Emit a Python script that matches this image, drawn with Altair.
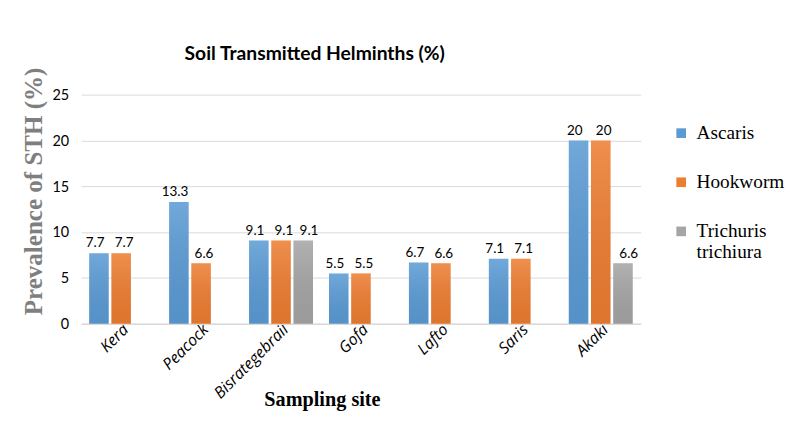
import altair as alt
import pandas as pd

sites = ["Kera", "Peacock", "Bisrategebrail", "Gofa", "Lafto", "Saris", "Akaki"]
series = ["Ascaris", "Hookworm", "Trichuris trichiura"]
ascaris = [7.7, 13.3, 9.1, 5.5, 6.7, 7.1, 20]
hookworm = [7.7, 6.6, 9.1, 5.5, 6.6, 7.1, 20]
trichuris = [None, None, 9.1, None, None, None, 6.6]
colors = ["#5b9bd5", "#ed7d31", "#a5a5a5"]

rows = []
for i, s in enumerate(sites):
    for name, vals in zip(series, [ascaris, hookworm, trichuris]):
        if vals[i] is not None:
            rows.append({"site": s, "series": name, "value": vals[i]})
df = pd.DataFrame(rows)

x = alt.X("site:N", sort=sites, title="Sampling site",
          scale=alt.Scale(paddingInner=0.2, paddingOuter=0.1),
          axis=alt.Axis(labelAngle=-45, labelAlign="right", labelBaseline="middle",
                        labelFont="Open Sans", labelFontStyle="italic", labelFontSize=16.5,
                        labelColor="#000000", labelPadding=3, labelOffset=5, ticks=False,
                        domainColor="#d9d9d9", domainWidth=1.5,
                        titleFont="Liberation Serif", titleFontWeight="bold", titleFontSize=21,
                        titleColor="#000000", titleX=250, titleY=68))
xo = alt.XOffset("series:N", sort=series, scale=alt.Scale(domain=series, paddingInner=0.12))
y = alt.Y("value:Q", title="Prevalence of STH (%)",
          scale=alt.Scale(domain=[0, 25]),
          axis=alt.Axis(values=[0, 5, 10, 15, 20, 25], ticks=False, domain=False,
                        gridColor="#d9d9d9", labelFont="Lato", labelFontSize=15,
                        labelColor="#000000", labelPadding=13,
                        titleFont="Liberation Serif", titleFontWeight="bold", titleFontSize=26,
                        titleColor="#7f7f7f", titlePadding=6, titleY=100))

base = alt.Chart(df)

bars = base.mark_bar().encode(
    x=x, xOffset=xo, y=y,
    color=alt.Color("series:N", sort=series,
                    scale=alt.Scale(domain=series, range=colors),
                    legend=alt.Legend(title=None, orient="none", legendX=613, legendY=30,
                                      symbolType="square", symbolSize=100,
                                      symbolStrokeWidth=0,
                                      labelFont="Liberation Serif", labelFontSize=20,
                                      labelColor="#000000", rowPadding=31, padding=0,
                                      labelOffset=6, labelLimit=200,
                                      labelExpr="datum.label == 'Trichuris trichiura' ? ['Trichuris', 'trichiura'] : datum.label")),
)

shade = base.mark_bar(
    fill=alt.Gradient(gradient="linear", x1=0, y1=0, x2=0, y2=1,
                      stops=[alt.GradientStop(color="rgba(255,255,255,0.14)", offset=0),
                             alt.GradientStop(color="rgba(0,0,0,0.06)", offset=1)])
).encode(x=x, xOffset=xo, y=y)

def lab(name, dx):
    return base.transform_filter(alt.datum.series == name).mark_text(
        baseline="bottom", dy=-3, dx=dx, font="Lato", fontSize=14, color="#000000"
    ).encode(x=x, xOffset=xo, y=y, text=alt.Text("value:Q"))

labels = [lab(series[0], -4), lab(series[1], 3), lab(series[2], 6)]

chart = alt.layer(bars, shade, *labels).properties(
    width=581, height=238,
    padding={"top": 30, "left": 13, "right": 5, "bottom": 5},
    title=alt.TitleParams("Soil Transmitted Helminths (%)", font="Lato", fontSize=20,
                          fontWeight="bold", color="#000000", offset=3, dx=-48,
                          frame="group"),
).configure(font="Liberation Serif").configure_view(stroke=None).configure_legend(
    labelFont="Liberation Serif")

chart.save("out.html", embed_options={"renderer": "svg", "actions": False})
